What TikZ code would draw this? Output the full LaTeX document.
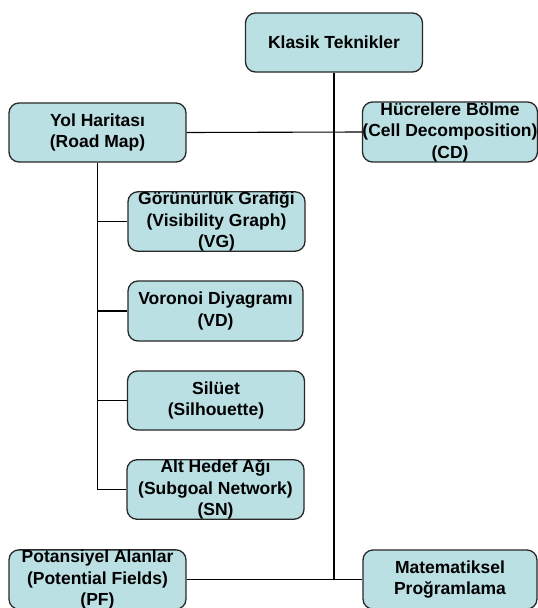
\documentclass[tikz,border=0pt]{standalone}
\usepackage{fontspec}
\setmainfont{Liberation Sans}
\definecolor{boxfill}{RGB}{187,224,227}
\definecolor{boxline}{RGB}{40,40,40}
\begin{document}
\begin{tikzpicture}[x=1pt,y=-1pt,
  techbox/.style={draw=boxline, line width=1.3pt, fill=boxfill,
    rounded corners=10pt, minimum width=177pt, minimum height=59pt,
    inner sep=0pt, align=center,
    font=\fontsize{17.5}{21.5}\selectfont\bfseries},
  trunk/.style={line width=1.9pt, black},
  branch/.style={line width=1.1pt, black}]
\useasboundingbox (0,0) rectangle (538,608);

% boxes
\node[techbox] (KT) at (334,42.5) {Klasik Teknikler};
\node[techbox] (RM) at (97.5,132.5) {Yol Haritası\\(Road Map)};
\node[techbox, minimum width=174pt, minimum height=60pt] (CD) at (450,132) {Hücrelere Bölme\\(Cell Decomposition)\\(CD)};
\node[techbox] (VG) at (216.5,221.5) {Görünürlük Grafiği\\(Visibility Graph)\\(VG)};
\node[techbox, minimum width=175pt, minimum height=60pt] (VD) at (215.5,311) {Voronoi Diyagramı\\(VD)};
\node[techbox] (SI) at (216,400.5) {Silüet\\(Silhouette)};
\node[techbox] (SN) at (215.5,489.5) {Alt Hedef Ağı\\(Subgoal Network)\\(SN)};
\node[techbox] (PF) at (97.5,579.5) {Potansiyel Alanlar\\(Potential Fields)\\(PF)};
\node[techbox, minimum width=174pt] (MP) at (450,579.5) {Matematiksel\\Proğramlama};

% main trunk and the two cross links
\draw[trunk] (KT.south) -- (KT.south |- MP.west);
\draw[branch] (RM.east) -- (CD.west);
\draw[branch] (PF.east) -- (MP.west);

% road map family
\draw[trunk] (RM.south) -- (RM.south |- SN.west);
\draw[branch] (RM.south |- VG.west) -- (VG.west);
\draw[branch] (RM.south |- VD.west) -- (VD.west);
\draw[branch] (RM.south |- SI.west) -- (SI.west);
\draw[branch] (RM.south |- SN.west) -- (SN.west);
\end{tikzpicture}
\end{document}
